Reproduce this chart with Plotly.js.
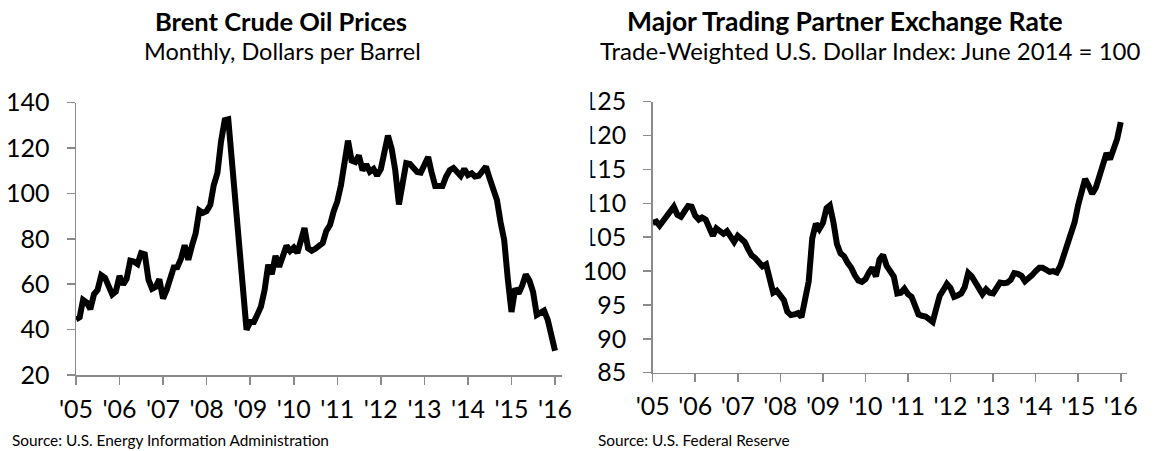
<!DOCTYPE html>
<html>
<head>
<meta charset="utf-8">
<script src="https://cdn.plot.ly/plotly-3.0.1.min.js"></script>
<style>
  html, body { margin: 0; padding: 0; background: #fff; }
  #chart { width: 1158px; height: 451px; }
</style>
</head>
<body>
<div id="chart"></div>
<script>
// ---------------- DATA ----------------
const startYear = 2005;
const monthCount = 133; // Jan 2005 .. Jan 2016

// Brent crude oil, monthly, dollars per barrel
const brentPrices = [
  44.5, 45.5, 53.1, 51.9, 49.0, 55.6, 57.5, 64.0, 62.9, 58.5, 55.5, 56.8,
  63.6, 59.9, 62.3, 70.4, 70.0, 68.9, 73.7, 73.2, 62.0, 58.0, 58.9, 62.2,
  53.7, 57.6, 62.1, 67.4, 67.5, 71.3, 77.2, 70.8, 77.1, 82.3, 92.5, 91.5,
  92.2, 94.9, 103.6, 109.1, 122.8, 132.3, 132.7, 113.2, 97.2, 71.6, 52.5, 40.0,
  43.4, 43.4, 46.5, 50.2, 57.3, 68.6, 64.4, 72.5, 67.7, 73.2, 77.0, 74.7,
  76.2, 73.8, 78.8, 84.8, 75.9, 74.8, 75.6, 77.1, 78.2, 83.5, 86.1, 92.0,
  96.5, 103.7, 114.6, 123.3, 114.5, 113.9, 116.7, 110.2, 112.8, 109.6, 110.8, 107.9,
  110.7, 119.3, 125.5, 119.8, 110.3, 95.2, 102.6, 113.4, 113.0, 111.5, 109.5, 109.2,
  112.3, 116.1, 109.5, 103.3, 103.3, 103.3, 107.4, 110.3, 111.2, 109.1, 107.8, 110.8,
  108.1, 108.9, 107.5, 107.8, 109.5, 111.8, 106.8, 101.6, 97.1, 87.4, 79.4, 62.3,
  47.8, 58.1, 55.9, 59.5, 64.3, 61.5, 56.6, 46.5, 47.6, 48.4, 44.3, 38.0,
  30.7
];

// Trade-weighted U.S. dollar index (major currencies), June 2014 = 100
const dollarIndex = [
  107.1, 107.3, 106.7, 107.5, 108.0, 109.0, 109.5, 108.3, 108.0, 108.8, 109.6, 109.5,
  108.2, 107.6, 107.9, 107.6, 106.5, 105.2, 106.3, 106.0, 105.5, 105.9, 105.2, 104.3,
  105.2, 104.8, 104.3, 103.2, 102.3, 101.9, 101.3, 100.7, 101.0, 99.0, 96.8, 97.1,
  96.3, 95.7, 94.0, 93.5, 93.6, 93.8, 93.2, 95.5, 98.5, 104.8, 107.0, 106.2,
  107.1, 109.3, 109.7, 107.2, 104.0, 102.6, 102.2, 101.2, 100.5, 99.4, 98.6, 98.4,
  98.8, 99.8, 100.5, 99.2, 101.7, 102.4, 100.8, 100.0, 99.2, 96.7, 96.8, 97.4,
  96.6, 96.2, 95.0, 93.6, 93.4, 93.3, 92.9, 92.5, 94.5, 96.4, 97.2, 98.1,
  97.5, 96.2, 96.4, 96.7, 97.6, 99.7, 99.2, 98.3, 97.4, 96.6, 97.3, 96.8,
  96.7, 97.6, 98.3, 98.2, 98.3, 98.7, 99.7, 99.6, 99.3, 98.5, 98.9, 99.4,
  100.0, 100.5, 100.5, 100.2, 99.9, 100.0, 99.8, 100.8, 102.6, 103.9, 105.6, 107.2,
  109.8, 111.5, 113.6, 112.6, 111.4, 112.3, 114.0, 116.0, 117.4, 116.5, 118.2, 119.5,
  122.0
];

const yearTickVals = ['2005-01-01','2006-01-01','2007-01-01','2008-01-01','2009-01-01','2010-01-01',
                      '2011-01-01','2012-01-01','2013-01-01','2014-01-01','2015-01-01','2016-01-01'];
const yearTickText = ["'05","'06","'07","'08","'09","'10","'11","'12","'13","'14","'15","'16"];

const leftTitle = 'Brent Crude Oil Prices';
const leftSubtitle = 'Monthly, Dollars per Barrel';
const leftSource = 'Source: U.S. Energy Information Administration';
const rightTitle = 'Major Trading Partner Exchange Rate';
const rightSubtitle = 'Trade-Weighted U.S. Dollar Index: June 2014 = 100';
const rightSource = 'Source: U.S. Federal Reserve';

// month dates
const months = [];
for (let i = 0; i < monthCount; i++) {
  const y = startYear + Math.floor(i / 12);
  const m = (i % 12) + 1;
  months.push(y + '-' + String(m).padStart(2, '0') + '-01');
}

// ---------------- LAYOUT ----------------
const W = 1158, H = 451;
const px = x => x / W;
const py = y => 1 - y / H;
const FONT = 'Lato, "Open Sans", sans-serif';
const AX = '#8a8a8a';

const lineStyle = { color: '#000', width: 6, shape: 'linear' };

const traces = [
  { x: months, y: brentPrices, type: 'scatter', mode: 'lines', line: lineStyle,
    xaxis: 'x', yaxis: 'y', hoverinfo: 'skip' },
  { x: months, y: dollarIndex, type: 'scatter', mode: 'lines', line: lineStyle,
    xaxis: 'x2', yaxis: 'y2', hoverinfo: 'skip' }
];

function xAxis(domain, rangeEnd, anchor) {
  return {
    type: 'date', domain: domain, anchor: anchor,
    range: ['2005-01-01', rangeEnd],
    tickmode: 'array', tickvals: yearTickVals, ticktext: yearTickText,
    showline: true, linecolor: AX, linewidth: 1.5,
    ticks: 'outside', ticklen: 8, tickwidth: 1.5, tickcolor: AX,
    ticklabelstandoff: 3,
    showgrid: false, zeroline: false,
    tickfont: { family: FONT, size: 25, color: '#000' },
    fixedrange: true
  };
}
function yAxis(domain, range, dtick, anchor) {
  return {
    domain: domain, anchor: anchor, range: range, dtick: dtick, tick0: range[0],
    showline: true, linecolor: AX, linewidth: 1.5,
    ticks: 'outside', ticklen: 8, tickwidth: 1.5, tickcolor: AX,
    ticklabelstandoff: 12,
    showgrid: false, zeroline: false,
    tickfont: { family: FONT, size: 25, color: '#000' },
    fixedrange: true
  };
}

function ann(text, x, y, size, bold, xanchor) {
  return {
    xref: 'paper', yref: 'paper', x: px(x), y: py(y),
    xanchor: xanchor || 'center', yanchor: 'middle',
    text: bold ? '<b>' + text + '</b>' : text,
    showarrow: false,
    font: { family: FONT, size: size, color: '#000' }
  };
}

const layout = {
  width: W, height: H,
  margin: { l: 0, r: 0, t: 0, b: 0, pad: 0 },
  paper_bgcolor: '#fff', plot_bgcolor: '#fff',
  showlegend: false,
  font: { family: FONT, color: '#000' },
  xaxis: xAxis([px(76), px(561.7)], '2016-02-26', 'y'),
  yaxis: yAxis([py(375), py(102.7)], [20, 140], 20, 'x'),
  xaxis2: xAxis([px(652.7), px(1126.7)], '2016-02-21', 'y2'),
  yaxis2: yAxis([py(372.7), py(101.7)], [85, 125], 5, 'x2'),
  shapes: [
    // the reference crops the left edge of the right panel's "1xx" labels
    { type: 'rect', xref: 'paper', yref: 'paper', layer: 'above',
      x0: px(574), x1: px(590.5), y0: py(250), y1: py(88),
      fillcolor: '#fff', line: { width: 0 } }
  ],
  annotations: [
    ann(leftTitle, 281, 21, 25.5, true),
    ann(leftSubtitle, 282, 51, 23.5, false),
    ann(rightTitle, 845, 21, 26.5, true),
    ann(rightSubtitle, 870, 51, 24, false),
    ann(leftSource, 10, 440, 15.4, false, 'left'),
    ann(rightSource, 596, 440, 15.4, false, 'left')
  ]
};

Plotly.newPlot('chart', traces, layout, { displayModeBar: false, staticPlot: true });
</script>
</body>
</html>
